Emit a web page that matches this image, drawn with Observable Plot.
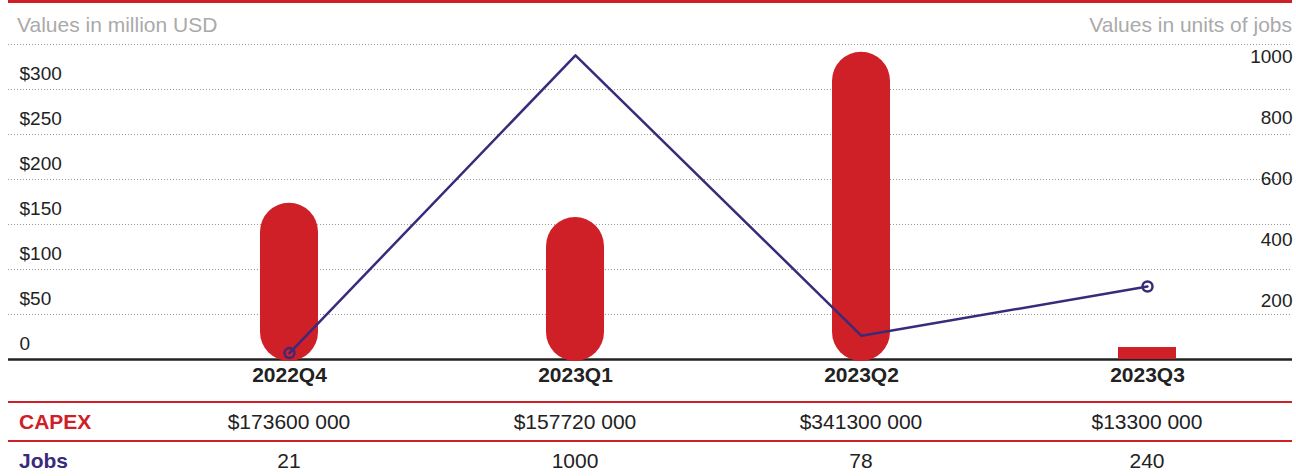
<!DOCTYPE html>
<html>
<head>
<meta charset="utf-8">
<script src="https://cdn.jsdelivr.net/npm/d3@7"></script>
<script src="https://cdn.jsdelivr.net/npm/@observablehq/plot@0.6"></script>
<style>
  html, body { margin: 0; padding: 0; background: #fff; }
  body { width: 1296px; height: 476px; overflow: hidden; font-family: "Liberation Sans", Arial, sans-serif; }
  .head { margin: 0 4px 0 8px; border-top: 3px solid #cf2027; display: flex; justify-content: space-between;
          font-size: 21px; line-height: 24px; color: #aaa; padding-top: 10px; height: 27px; }
  .head .l { padding-left: 9px; }
  #chart svg { display: block; }
  .tbl { margin: 0 4px 0 8px; display: grid; font-size: 21px; color: #222; }
  .cell { border-top: 2px solid #cf2027; height: 37px; line-height: 37px; text-align: center; white-space: nowrap; }
  .lab { text-align: left; padding-left: 11px; font-weight: bold; }
</style>
</head>
<body>
<div class="head"><span class="l">Values in million USD</span><span class="r">Values in units of jobs</span></div>
<div id="chart"></div>
<div id="table" class="tbl"></div>
<script>
// ---- data ----
const quarters = ["2022Q4", "2023Q1", "2023Q2", "2023Q3"];
const capex = [173.6, 157.72, 341.3, 13.3];            // million USD
const jobs = [21, 1000, 78, 240];                       // units of jobs
const capexText = ["$173600 000", "$157720 000", "$341300 000", "$13300 000"];
const capexTicks = [0, 50, 100, 150, 200, 250, 300];
const gridTicks = [50, 100, 150, 200, 250, 300, 350];
const jobsTicks = [200, 400, 600, 800, 1000];
const rowNames = ["CAPEX", "Jobs"];

const red = "#cf2027";
const purple = "#3b2a7a";
const k = 0.338; // secondary axis: capex units per job

const data = quarters.map((q, i) => ({quarter: q, capex: capex[i], jobs: jobs[i]}));

const chart = Plot.plot({
  width: 1296,
  height: 361,
  marginTop: 4,
  marginBottom: 42,
  marginLeft: 8,
  marginRight: 4,
  x: {domain: quarters, range: [146, 1290], padding: 0, axis: null},
  y: {domain: [0, 350], axis: null},
  style: {fontFamily: "'Liberation Sans', Arial, sans-serif", background: "white", overflow: "visible"},
  marks: [
    Plot.ruleY(gridTicks, {stroke: "#999", strokeDasharray: "1,2", strokeWidth: 1}),
    Plot.ruleY([0], {stroke: "#222", strokeWidth: 2.5}),
    Plot.barY(data.filter(d => d.capex >= 50), {x: "quarter", y: "capex", fill: red, insetLeft: 114, insetRight: 114, insetBottom: -2, rx: 29}),
    Plot.barY(data.filter(d => d.capex < 50), {x: "quarter", y: "capex", fill: red, insetLeft: 114, insetRight: 114}),
    Plot.line(data, {x: "quarter", y: d => d.jobs * k, stroke: purple, strokeWidth: 2.5}),
    Plot.dot(data.filter((d, i, a) => i === 0 || i === a.length - 1), {x: "quarter", y: d => d.jobs * k, r: 5, stroke: purple, strokeWidth: 2.5, fill: "none"}),
    Plot.text(capexTicks, {y: d => d, text: d => d === 0 ? "0" : "$" + d, frameAnchor: "left", textAnchor: "start", dx: 11, dy: -16, fontSize: 19, fill: "#222"}),
    Plot.text(jobsTicks, {y: d => d * k, text: d => String(d), frameAnchor: "right", textAnchor: "end", dy: 2, fontSize: 19, fill: "#222"}),
    Plot.text(quarters, {x: d => d, text: d => d, frameAnchor: "bottom", dy: 22, fontWeight: "bold", fontSize: 21, fill: "#222"})
  ]
});
document.getElementById("chart").appendChild(chart);

// ---- table aligned with the x band scale ----
const xs = chart.scale("x");
const r0 = xs.range[0], r1 = xs.range[1];
const step = (r1 - r0) / quarters.length;
const tbl = document.getElementById("table");
tbl.style.gridTemplateColumns = `${r0 - 8}px repeat(${quarters.length}, ${step}px) 1fr`;
const rows = [
  {name: rowNames[0], color: red, values: capexText},
  {name: rowNames[1], color: purple, values: jobs.map(String)}
];
for (const row of rows) {
  const lab = document.createElement("div");
  lab.className = "cell lab";
  lab.style.color = row.color;
  lab.textContent = row.name;
  tbl.appendChild(lab);
  for (const v of row.values) {
    const c = document.createElement("div");
    c.className = "cell";
    c.textContent = v;
    tbl.appendChild(c);
  }
  const end = document.createElement("div");
  end.className = "cell";
  tbl.appendChild(end);
}
</script>
</body>
</html>
